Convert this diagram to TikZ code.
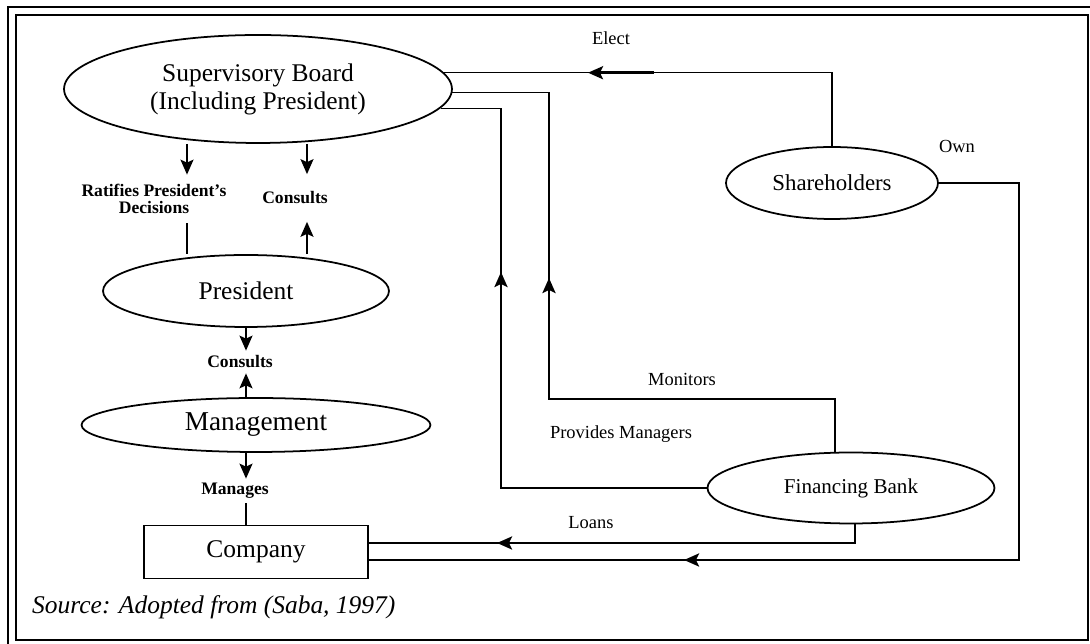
\documentclass[tikz,border=0pt]{standalone}
\usepackage{fontspec}
\setmainfont{Liberation Serif}
\usetikzlibrary{shapes, arrows.meta, positioning}

\begin{document}
\begin{tikzpicture}[
  x=0.02cm, y=-0.02cm,
  ell/.style={ellipse, draw, line width=1pt, inner sep=0pt},
  box/.style={rectangle, draw, line width=1pt, inner sep=0pt},
  lbl/.style={inner sep=1pt, font=\fontsize{10.5}{12}\selectfont},
  lblb/.style={inner sep=1pt, align=center, font=\bfseries\fontsize{10}{10}\selectfont},
  conn/.style={line width=0.7pt},
  arr/.style={-{Stealth[length=3mm, width=2.6mm, inset=0.6mm]}, line width=1.1pt},
  head/.style={-{Stealth[length=3mm, width=2.6mm, inset=0.6mm]}, line width=1.5pt}
]
  \useasboundingbox (0,0) rectangle (1090,644);
  \draw[line width=0.6pt] (8,644) -- (8,7) -- (1090,7);
  \draw[line width=1.6pt] (16,15) rectangle (1088,640);

  % left column
  \node[ell, minimum width=7.76cm, minimum height=2.16cm, align=center,
        font=\fontsize{14.5}{16}\selectfont] (sb) at (258,89) {Supervisory Board\\(Including President)};
  \node[ell, minimum width=5.72cm, minimum height=1.44cm, font=\fontsize{14.5}{16}\selectfont] (pres) at (246,291) {President};
  \node[ell, minimum width=6.98cm, minimum height=1.08cm, font=\fontsize{15.5}{17}\selectfont] (mgmt) at (256,425) {Management};
  \node[box, minimum width=4.48cm, minimum height=1.06cm, font=\fontsize{14.5}{16}\selectfont] (comp) at (256,552) {Company};

  % right column
  \node[ell, minimum width=4.24cm, minimum height=1.44cm, font=\fontsize{13}{15}\selectfont] (sh) at (832,183) {Shareholders};
  \node[ell, minimum width=5.74cm, minimum height=1.42cm, font=\fontsize{12}{14}\selectfont] (fb) at (851,488) {Financing Bank};

  % labels
  \node[lblb, minimum height=0.96cm] (ratify) at (154,199) {Ratifies President's\\Decisions};
  \node[lblb, minimum height=0.94cm] (cons1) at (295,198) {Consults};
  \node[lblb, minimum height=0.44cm] (cons2) at (240,362) {Consults};
  \node[lblb, minimum height=0.48cm] (manages) at (235,491) {Manages};
  \node[lbl] (elect) at (611,38) {Elect};
  \node[lbl] (own) at (957,146) {Own};
  \node[lbl] (monitors) at (682,379) {Monitors};
  \node[lbl] (provides) at (621,434) {Provides Managers};
  \node[lbl] (loans) at (591,523) {Loans};
  \node[anchor=base west, font=\itshape\fontsize{14.5}{16}\selectfont] (source) at (26,614) {Source: Adopted from (Saba, 1997)};

  % columns and bends
  \coordinate (ratcol) at (187,0);
  \coordinate (concol) at (307,0);
  \coordinate (electtip) at (588,0);
  \coordinate (monfoot) at (835,0);
  \coordinate (moncorner) at (549,399);
  \coordinate (montip) at (549,278);
  \coordinate (provtip) at (501,272);
  \coordinate (loancorner) at (855,543);
  \coordinate (loantip) at (497,543);
  \coordinate (owncorner) at (1019,560);
  \coordinate (owntip) at (684,560);

  % board and president
  \draw[arr] (sb.south -| ratcol) -- (ratify.north -| ratcol);
  \draw[conn] (ratify.south -| ratcol) -- (pres.north -| ratcol);
  \draw[arr] (sb.south -| concol) -- (cons1.north -| concol);
  \draw[arr] (pres.north -| concol) -- (cons1.south -| concol);

  % president, management, company
  \draw[arr] (pres.south) -- (cons2.north -| pres.south);
  \draw[arr] (mgmt.north -| pres.south) -- (cons2.south -| pres.south);
  \draw[arr] (mgmt.south -| pres.south) -- (manages.north -| pres.south);
  \draw[conn] (manages.south -| pres.south) -- (comp.north -| pres.south);

  % outside parties
  \draw[conn] (sh.north) |- (sb.5);
  \draw[conn] (fb.north -| monfoot) |- (moncorner) |- (sb.-1);
  \draw[conn] (fb.west) -| (provtip) |- (sb.-6);
  \draw[conn] (fb.south -| loancorner) -- (loancorner) -- (loancorner -| comp.east);
  \draw[conn] (sh.east) -| (owncorner) -- (owncorner -| comp.east);

  \draw[head] (sb.5 -| electtip) ++(66,0) -- (sb.5 -| electtip);
  \draw[head] (montip) ++(0,22) -- (montip);
  \draw[head] (provtip) ++(0,24) -- (provtip);
  \draw[head] (loantip) ++(60,0) -- (loantip);
  \draw[head] (owntip) ++(66,0) -- (owntip);
\end{tikzpicture}
\end{document}
